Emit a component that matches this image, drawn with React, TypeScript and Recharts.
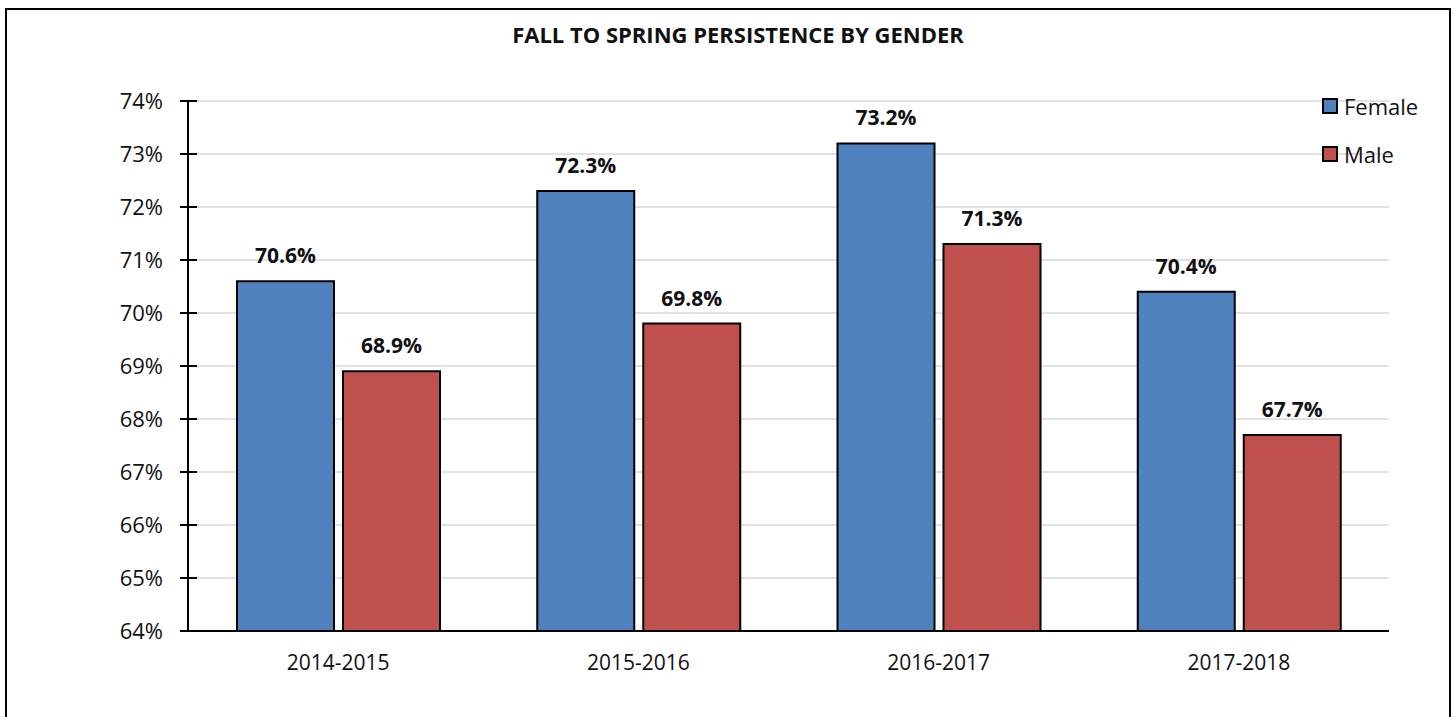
import { BarChart, Bar, XAxis, YAxis, CartesianGrid, LabelList } from 'recharts';

const years = ['2014-2015', '2015-2016', '2016-2017', '2017-2018'];
const female = [70.6, 72.3, 73.2, 70.4];
const male = [68.9, 69.8, 71.3, 67.7];
const yTicks = [64, 65, 66, 67, 68, 69, 70, 71, 72, 73, 74];

const FONT = '"Open Sans", "Noto Sans", sans-serif';
const BLUE = '#4f81bd';
const RED = '#c0504d';

const data = years.map((year, i) => ({ year, Female: female[i], Male: male[i] }));

// y tick: label plus a tick mark that crosses the axis line
const YTick = (props: any) => {
  const { x, y, payload } = props;
  const axisX = x + 25;
  return (
    <g>
      <line x1={axisX - 8} x2={axisX + 9} y1={y} y2={y} stroke="#000" strokeWidth={2} />
      <text x={x} y={y} dy={8} textAnchor="end" fontSize={22} fontFamily={FONT} fill="#111">
        {`${payload.value}%`}
      </text>
    </g>
  );
};

const XTick = (props: any) => {
  const { x, y, payload } = props;
  return (
    <text x={x} y={y} dy={14} textAnchor="middle" fontSize={21} fontFamily={FONT} fill="#111">
      {payload.value}
    </text>
  );
};

const legendItems = [
  { name: 'Female', color: BLUE },
  { name: 'Male', color: RED },
];

const labelStyle = { fontFamily: FONT, fontWeight: 700, fontSize: 21, fill: '#111' };
const pct = (v: any) => `${Number(v).toFixed(1)}%`;

export default function App() {
  return (
    <div style={{ position: 'absolute', left: 0, top: 0, width: 1454, height: 717, overflow: 'hidden', background: '#fff' }}>
      <div style={{ position: 'absolute', left: 5, top: 8, width: 1442, height: 730, border: '2px solid #000' }} />
      <div
        style={{
          position: 'absolute', left: 0, width: 1476, top: 19, textAlign: 'center',
          fontFamily: FONT, fontWeight: 700, fontSize: 22, color: '#111',
        }}
      >
        FALL TO SPRING PERSISTENCE BY GENDER
      </div>
      <BarChart
        width={1454}
        height={717}
        data={data}
        margin={{ top: 101, right: 65, bottom: 46, left: 0 }}
        barSize={97}
        barGap={9}
        style={{ position: 'absolute', left: 0, top: 0 }}
      >
        <CartesianGrid vertical={false} stroke="#d9d9d9" strokeWidth={1.5} />
        <XAxis
          dataKey="year"
          height={40}
          axisLine={{ stroke: '#000', strokeWidth: 2 }}
          tickLine={false}
          tickSize={0}
          tickMargin={25}
          tick={<XTick />}
        />
        <YAxis
          width={188}
          domain={[64, 74]}
          ticks={yTicks}
          interval={0}
          axisLine={{ stroke: '#000', strokeWidth: 2 }}
          tickLine={false}
          tickSize={0}
          tickMargin={25}
          tick={<YTick />}
        />
        <Bar dataKey="Female" fill={BLUE} stroke="#000" strokeWidth={2} isAnimationActive={false}>
          <LabelList dataKey="Female" position="top" offset={18} formatter={pct} style={labelStyle} />
        </Bar>
        <Bar dataKey="Male" fill={RED} stroke="#000" strokeWidth={2} isAnimationActive={false}>
          <LabelList dataKey="Male" position="top" offset={18} formatter={pct} style={labelStyle} />
        </Bar>
      </BarChart>
      <div style={{ position: 'absolute', left: 1322, top: 92, fontFamily: FONT, fontSize: 22, color: '#111' }}>
        {legendItems.map((s, i) => (
          <div key={s.name} style={{ display: 'flex', alignItems: 'center', height: 28, marginBottom: i === 0 ? 20 : 0 }}>
            <span style={{ width: 12, height: 12, background: s.color, border: '2px solid #000', marginRight: 6 }} />
            <span>{s.name}</span>
          </div>
        ))}
      </div>
    </div>
  );
}
